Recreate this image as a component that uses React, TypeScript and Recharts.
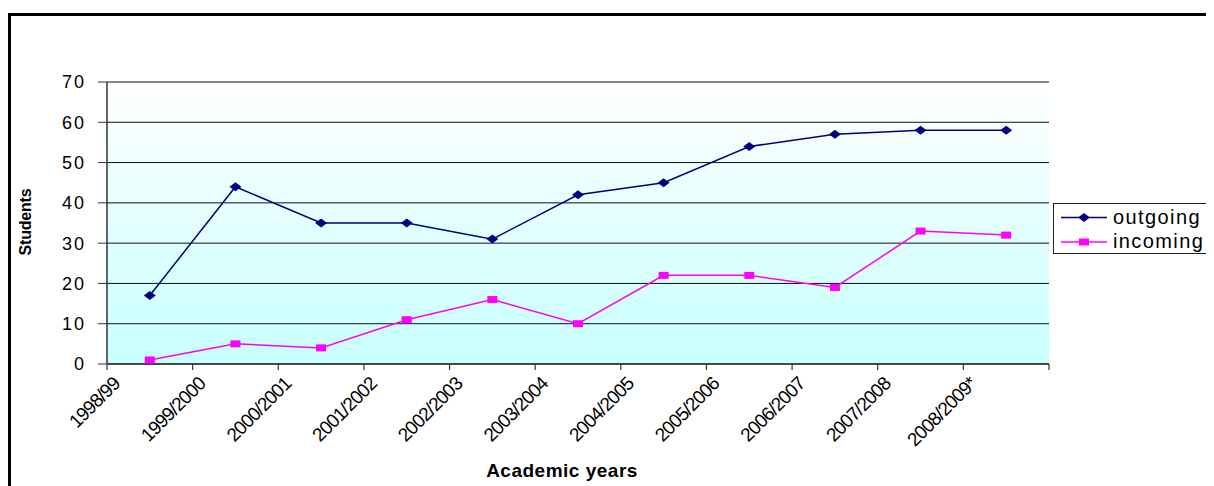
import { CartesianGrid, Line, LineChart, ReferenceLine, XAxis, YAxis } from 'recharts'

const years = [
  '1998/99',
  '1999/2000',
  '2000/2001',
  '2001/2002',
  '2002/2003',
  '2003/2004',
  '2004/2005',
  '2005/2006',
  '2006/2007',
  '2007/2008',
  '2008/2009*',
]
const outgoing = [17, 44, 35, 35, 31, 42, 45, 54, 57, 58, 58]
const incoming = [1, 5, 4, 11, 16, 10, 22, 22, 19, 33, 32]
const yTicks = [0, 10, 20, 30, 40, 50, 60, 70]

const data = years.map((year, i) => ({
  year,
  outgoing: outgoing[i],
  incoming: incoming[i],
}))

const NAVY = '#000080'
const MAGENTA = '#ff00ff'
const FONT = 'Arial, "Liberation Sans", sans-serif'

const CHART_W = 1199
const CHART_H = 474
const PLOT_LEFT = 96
const PLOT_RIGHT = 1038
const BAND = (PLOT_RIGHT - PLOT_LEFT) / years.length

function diamond(cx: number, cy: number) {
  return `M${cx},${cy - 4.5} L${cx + 6},${cy} L${cx},${cy + 4.5} L${cx - 6},${cy} Z`
}

function OutDot(props: any) {
  const { cx, cy, index } = props
  if (cx == null || cy == null) return <g key={`o-${index}`} />
  return <path key={`o-${index}`} d={diamond(cx, cy)} fill={NAVY} />
}

function InDot(props: any) {
  const { cx, cy, index } = props
  if (cx == null || cy == null) return <g key={`i-${index}`} />
  return <rect key={`i-${index}`} x={cx - 5} y={cy - 3.5} width={10} height={7} fill={MAGENTA} />
}

function YearTick(props: any) {
  const { x, y, payload, index } = props
  const bx = x - BAND / 2
  const lx = bx + 14
  const ly = y + 21
  return (
    <g>
      <line x1={bx} y1={y} x2={bx} y2={y + 6} stroke="#333" strokeWidth={1.2} />
      {index === years.length - 1 && (
        <line x1={bx + BAND} y1={y} x2={bx + BAND} y2={y + 6} stroke="#333" strokeWidth={1.2} />
      )}
      <text
        x={lx}
        y={ly}
        textAnchor="end"
        fontSize={19}
        fontFamily={FONT}
        letterSpacing={-0.9}
        fill="#000"
        transform={`rotate(-45 ${lx} ${ly})`}
      >
        {payload.value}
      </text>
    </g>
  )
}

// legend drawn as a plain box over the chart, like the exported spreadsheet one
function LegendBox() {
  const rows = [
    { name: 'outgoing', color: NAVY, square: false },
    { name: 'incoming', color: MAGENTA, square: true },
  ]
  return (
    <svg width={170} height={51} style={{ display: 'block' }}>
      <rect x={0.5} y={0.5} width={169} height={50} fill="#fff" stroke="#222" />
      {rows.map((r, i) => {
        const cy = 14.5 + i * 24.5
        return (
          <g key={r.name}>
            <line x1={8} y1={cy} x2={54} y2={cy} stroke={r.color} strokeWidth={1.5} />
            {r.square ? (
              <rect x={26} y={cy - 3.5} width={10} height={7} fill={r.color} />
            ) : (
              <path d={diamond(31, cy)} fill={r.color} />
            )}
            <text x={60} y={cy + 6} fontSize={20} fontFamily={FONT} letterSpacing={1.4} fill="#000">
              {r.name}
            </text>
          </g>
        )
      })}
    </svg>
  )
}

export default function App() {
  return (
    <div
      style={{
        position: 'relative',
        top: 5,
        width: 1205,
        height: 480,
        border: '3px solid #000',
        boxSizing: 'border-box',
        overflow: 'hidden',
        background: '#fff',
      }}
    >
      <LineChart
        width={CHART_W}
        height={CHART_H}
        data={data}
        margin={{ top: 66, right: 161, left: 36, bottom: 26 }}
      >
        <defs>
          <linearGradient id="plotBg" x1="0" y1="0" x2="0" y2="1">
            <stop offset="0%" stopColor="#ffffff" />
            <stop offset="100%" stopColor="#c8ffff" />
          </linearGradient>
        </defs>
        <CartesianGrid vertical={false} stroke="#111" fill="url(#plotBg)" fillOpacity={1} />
        <XAxis
          dataKey="year"
          scale="band"
          interval={0}
          height={100}
          tickSize={0}
          tickMargin={0}
          tickLine={false}
          axisLine={{ stroke: '#333', strokeWidth: 1.5 }}
          tick={<YearTick />}
        />
        <YAxis
          domain={[0, 70]}
          ticks={yTicks}
          interval={0}
          width={60}
          tickSize={9}
          tickMargin={12}
          axisLine={{ stroke: '#333', strokeWidth: 1.5 }}
          tickLine={{ stroke: '#333' }}
          tick={{ fill: '#000', fontSize: 18, fontFamily: FONT, letterSpacing: 2 }}
        />
        <YAxis
          yAxisId="right"
          orientation="right"
          width={0}
          domain={[0, 70]}
          tick={false}
          tickLine={false}
          axisLine={{ stroke: '#888', strokeWidth: 1.5 }}
        />
        <ReferenceLine y={70} stroke="#888" strokeWidth={1.2} />
        <Line
          dataKey="outgoing"
          stroke={NAVY}
          strokeWidth={1.5}
          dot={OutDot}
          activeDot={false}
          isAnimationActive={false}
        />
        <Line
          dataKey="incoming"
          stroke={MAGENTA}
          strokeWidth={1.5}
          dot={InDot}
          activeDot={false}
          isAnimationActive={false}
        />
        <text
          x={551}
          y={461}
          textAnchor="middle"
          fontSize={19}
          fontWeight="bold"
          letterSpacing={0.5}
          fontFamily={FONT}
          fill="#000"
        >
          Academic years
        </text>
        <text
          x={20}
          y={206}
          textAnchor="middle"
          fontSize={16}
          fontWeight="bold"
          letterSpacing={-0.2}
          fontFamily={FONT}
          fill="#000"
          transform="rotate(-90 20 206)"
        >
          Students
        </text>
      </LineChart>
      <div style={{ position: 'absolute', left: 1042, top: 187 }}>
        <LegendBox />
      </div>
    </div>
  )
}
